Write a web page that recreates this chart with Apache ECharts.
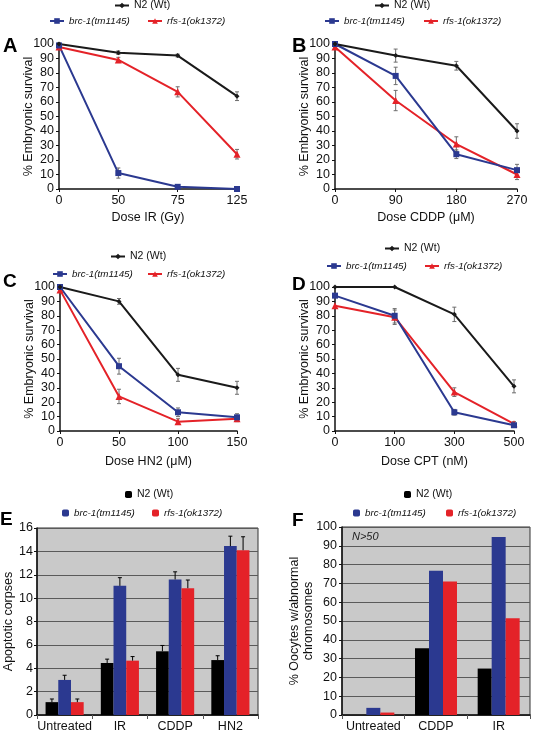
<!DOCTYPE html>
<html><head><meta charset="utf-8">
<script src="https://cdn.jsdelivr.net/npm/echarts/dist/echarts.min.js"></script>
<style>
html,body{margin:0;padding:0;background:#fff;width:534px;height:736px;overflow:hidden}
.p{position:absolute;left:0;top:0;width:534px;height:736px}
</style></head>
<body>
<div id="pA" class="p"></div><div id="pB" class="p"></div><div id="pC" class="p"></div>
<div id="pD" class="p"></div><div id="pE" class="p"></div><div id="pF" class="p"></div>
<script>
// ---------- DATA ----------
const seriesNames = ['N2 (Wt)', 'brc-1(tm1145)', 'rfs-1(ok1372)'];

// Panel A: IR
const doseIR = ['0', '50', '75', '125'];
const irN2 = [100, 94, 92, 64];      const irN2Err = [0.8, 1.2, 1, 3];
const irBrc = [99, 11, 1.5, 0];      const irBrcErr = [0, 3.5, 0.6, 0];
const irRfs = [98, 89, 67, 24];      const irRfsErr = [1, 1.8, 3.5, 3.3];

// Panel B: CDDP
const doseCDDP = ['0', '90', '180', '270'];
const cddpN2 = [100, 92, 85, 40];    const cddpN2Err = [0, 4.5, 3, 5];
const cddpBrc = [100, 78, 24, 13];   const cddpBrcErr = [0, 6, 3, 4];
const cddpRfs = [98, 61, 31, 10];    const cddpRfsErr = [0, 7, 5, 3.5];

// Panel C: HN2
const doseHN2 = ['0', '50', '100', '150'];
const hn2N2 = [100, 90, 39, 30];     const hn2N2Err = [0, 2, 4.5, 4.5];
const hn2Brc = [100, 45, 13, 9.5];   const hn2BrcErr = [0, 5.5, 3, 2.5];
const hn2Rfs = [98, 24, 6.5, 8.5];   const hn2RfsErr = [0, 5, 2, 2];

// Panel D: CPT
const doseCPT = ['0', '100', '300', '500'];
const cptN2 = [100, 100, 81, 31];    const cptN2Err = [0, 0, 5, 4.5];
const cptBrc = [94, 80, 13, 4];      const cptBrcErr = [0, 5, 2, 1];
const cptRfs = [87, 79, 27, 5];      const cptRfsErr = [0, 5, 3, 1.5];

// Panel E: apoptotic corpses
const treatE = ['Untreated', 'IR', 'CDDP', 'HN2'];
const apoN2 = [1.1, 4.45, 5.45, 4.7];     const apoN2Err = [0.27, 0.33, 0.5, 0.37];
const apoBrc = [3.0, 11.05, 11.6, 14.45]; const apoBrcErr = [0.4, 0.7, 0.65, 0.85];
const apoRfs = [1.1, 4.65, 10.85, 14.1];  const apoRfsErr = [0.27, 0.35, 0.7, 1.15];

// Panel F: oocytes with abnormal chromosomes
const treatF = ['Untreated', 'CDDP', 'IR'];
const oocN2 = [0, 35.5, 24.7];
const oocBrc = [3.8, 76.7, 94.7];
const oocRfs = [1.3, 71, 51.5];

// ---------- STYLE ----------
const FONT = "'Liberation Sans', Arial, Helvetica, sans-serif";
const INK = '#111';
const COLORS = ['#1a1a1a', '#2b3990', '#e42228'];
const SYMBOLS = ['diamond', 'rect', 'triangle'];
const SYMSIZE = [5, 6, 7];

function letter(t, x, y, size) {
  return {type: 'text', x: x, y: y, style: {text: t, fontFamily: FONT, fontWeight: 'bold', fontSize: size, fill: '#000', verticalAlign: 'middle'}};
}

function legends(pos, bar) {
  return seriesNames.map((n, k) => ({
    data: [n], left: pos[k][0], top: pos[k][1], padding: 0, selectedMode: false,
    itemWidth: bar ? 7 : 14, itemHeight: 7,
    textStyle: {fontFamily: FONT, fontSize: k === 0 ? 10.5 : 9.8, color: INK, fontStyle: k === 0 ? 'normal' : 'italic'}
  }));
}

function errRenderer(nSeries, k, gap, upOnly, color) {
  return function (params, api) {
    const i = api.value(0), v = api.value(1), e = api.value(2);
    if (!e) return null;
    let cx = api.coord([i, v])[0];
    if (nSeries > 1) {
      const band = api.size([1, 0])[0];
      const tot = band * (1 - gap);
      const bw = tot / nSeries;
      cx += -tot / 2 + bw * (k + 0.5);
    }
    const yt = api.coord([i, v + e])[1];
    const yb = api.coord([i, upOnly ? v : Math.max(0, v - e)])[1];
    const st = {stroke: color, lineWidth: 1};
    const ch = [
      {type: 'line', shape: {x1: cx, y1: yt, x2: cx, y2: yb}, style: st},
      {type: 'line', shape: {x1: cx - 2, y1: yt, x2: cx + 2, y2: yt}, style: st}
    ];
    if (!upOnly) ch.push({type: 'line', shape: {x1: cx - 2, y1: yb, x2: cx + 2, y2: yb}, style: st});
    return {type: 'group', children: ch};
  };
}

function lineOpt(p) {
  const vals = [p.n2, p.brc, p.rfs];
  const errs = [p.n2e, p.brce, p.rfse];
  const series = [];
  vals.forEach((v, k) => {
    series.push({
      type: 'custom', name: 'err' + k, z: 1, silent: true,
      renderItem: errRenderer(1, 0, 0, false, '#6e6e6e'),
      data: v.map((y, i) => [i, y, errs[k][i]])
    });
  });
  [2, 1, 0].forEach(k => {
    series.push({
      type: 'line', name: seriesNames[k], data: vals[k], z: 3,
      symbol: SYMBOLS[k], symbolSize: SYMSIZE[k], showAllSymbol: true,
      lineStyle: {color: COLORS[k], width: 2}, itemStyle: {color: COLORS[k]}
    });
  });
  return {
    animation: false,
    textStyle: {fontFamily: FONT},
    graphic: [letter(p.letter[0], p.letter[1], p.letter[2], p.letter[3])],
    legend: legends(p.leg, false),
    grid: {left: p.grid[0], top: p.grid[1], width: p.grid[2], height: p.grid[3]},
    xAxis: {
      type: 'category', data: p.cats, boundaryGap: false,
      axisLine: {lineStyle: {color: INK, width: 1.5}},
      axisTick: {show: true, length: 3, lineStyle: {color: INK}},
      axisLabel: {color: INK, fontSize: 12.5, margin: 5, fontFamily: FONT, interval: 0},
      name: p.xName, nameLocation: 'middle', nameGap: p.xGap, nameMoveOverlap: false,
      nameTextStyle: {color: INK, fontSize: 12.5, fontFamily: FONT}
    },
    yAxis: {
      type: 'value', min: 0, max: 100, interval: 10,
      axisLine: {show: true, lineStyle: {color: INK, width: 1.5}},
      axisTick: {show: true, length: 3, lineStyle: {color: INK}},
      splitLine: {show: false},
      axisLabel: {color: INK, fontSize: 12.5, margin: 5, fontFamily: FONT},
      name: '% Embryonic survival', nameLocation: 'middle', nameGap: 24, nameMoveOverlap: false,
      nameTextStyle: {color: INK, fontSize: 12.5, fontFamily: FONT}
    },
    series: series
  };
}

function barOpt(p) {
  const vals = [p.n2, p.brc, p.rfs];
  const gap = p.gap;
  const series = [];
  [0, 1, 2].forEach(k => {
    series.push({
      type: 'bar', name: seriesNames[k], data: vals[k], barGap: '0%', barCategoryGap: (gap * 100) + '%',
      itemStyle: {color: k === 0 ? '#000' : COLORS[k]}, z: 2
    });
  });
  if (p.errs) {
    [0, 1, 2].forEach(k => {
      series.push({
        type: 'custom', name: 'err' + k, z: 3, silent: true,
        renderItem: errRenderer(3, k, gap, true, '#000'),
        data: vals[k].map((y, i) => [i, y, p.errs[k][i]])
      });
    });
  }
  return {
    animation: false,
    textStyle: {fontFamily: FONT},
    graphic: [letter(p.letter[0], p.letter[1], p.letter[2], p.letter[3])].concat(p.extra || []),
    legend: legends(p.leg, true),
    grid: {left: p.grid[0], top: p.grid[1], width: p.grid[2], height: p.grid[3],
      show: true, backgroundColor: '#c9c9c9', borderColor: '#333', borderWidth: 1},
    xAxis: {
      type: 'category', data: p.cats,
      axisLine: {lineStyle: {color: INK, width: 1.5}},
      axisTick: {show: true, length: 4, interval: 0, lineStyle: {color: '#555'}},
      axisLabel: {color: INK, fontSize: 12.5, margin: 5, fontFamily: FONT, interval: 0}
    },
    yAxis: {
      type: 'value', min: 0, max: p.max, interval: p.interval,
      axisLine: {show: true, lineStyle: {color: INK, width: 1.5}},
      axisTick: {show: true, length: 3, lineStyle: {color: INK}},
      splitLine: {show: true, lineStyle: {color: '#5a5a5a', width: 1}},
      axisLabel: {color: INK, fontSize: 12.5, margin: p.labMargin, fontFamily: FONT},
      name: p.yName, nameLocation: 'middle', nameGap: p.yGap, nameMoveOverlap: false,
      nameTextStyle: {color: INK, fontSize: 12.5, fontFamily: FONT, lineHeight: 14}
    },
    series: series
  };
}

function mk(id, opt) {
  const c = echarts.init(document.getElementById(id), null, {renderer: 'canvas'});
  c.setOption(opt);
}

mk('pA', lineOpt({cats: doseIR, n2: irN2, n2e: irN2Err, brc: irBrc, brce: irBrcErr, rfs: irRfs, rfse: irRfsErr,
  grid: [59, 44, 178, 145], xName: 'Dose IR (Gy)', xGap: 22,
  leg: [[114, 0], [49, 16], [147, 16]], letter: ['A', 3, 46, 20]}));
mk('pB', lineOpt({cats: doseCDDP, n2: cddpN2, n2e: cddpN2Err, brc: cddpBrc, brce: cddpBrcErr, rfs: cddpRfs, rfse: cddpRfsErr,
  grid: [335, 44, 182, 145], xName: 'Dose CDDP (\u03bcM)', xGap: 22,
  leg: [[374, 0], [324, 16], [423, 16]], letter: ['B', 292, 46, 20]}));
mk('pC', lineOpt({cats: doseHN2, n2: hn2N2, n2e: hn2N2Err, brc: hn2Brc, brce: hn2BrcErr, rfs: hn2Rfs, rfse: hn2RfsErr,
  grid: [60, 287, 177, 144], xName: 'Dose HN2 (\u03bcM)', xGap: 24,
  leg: [[110, 251], [52, 269], [147, 269]], letter: ['C', 3, 282, 19]}));
mk('pD', lineOpt({cats: doseCPT, n2: cptN2, n2e: cptN2Err, brc: cptBrc, brce: cptBrcErr, rfs: cptRfs, rfse: cptRfsErr,
  grid: [335, 287, 179, 144], xName: 'Dose CPT (nM)', xGap: 24,
  leg: [[384, 243], [326, 261], [424, 261]], letter: ['D', 292, 285, 19]}));
mk('pE', barOpt({cats: treatE, n2: apoN2, brc: apoBrc, rfs: apoRfs, errs: [apoN2Err, apoBrcErr, apoRfsErr],
  gap: 0.31, max: 16, interval: 2, grid: [37, 528, 221, 187], labMargin: 4,
  yName: 'Apoptotic corpses', yGap: 21,
  leg: [[125, 489], [62, 508], [152, 508]], letter: ['E', 0, 520, 19]}));
mk('pF', barOpt({cats: treatF, n2: oocN2, brc: oocBrc, rfs: oocRfs, errs: null,
  gap: 0.33, max: 100, interval: 10, grid: [342, 527, 188, 188], labMargin: 5,
  yName: '% Oocytes w/abnormal\nchromosomes', yGap: 26,
  leg: [[404, 489], [353, 508], [446, 508]], letter: ['F', 292, 521, 19],
  extra: [{type: 'text', x: 352, y: 537, z: 10, style: {text: 'N>50', fontFamily: FONT, fontStyle: 'italic', fontSize: 11, fill: '#222', verticalAlign: 'middle'}}]}));
</script>
</body></html>
